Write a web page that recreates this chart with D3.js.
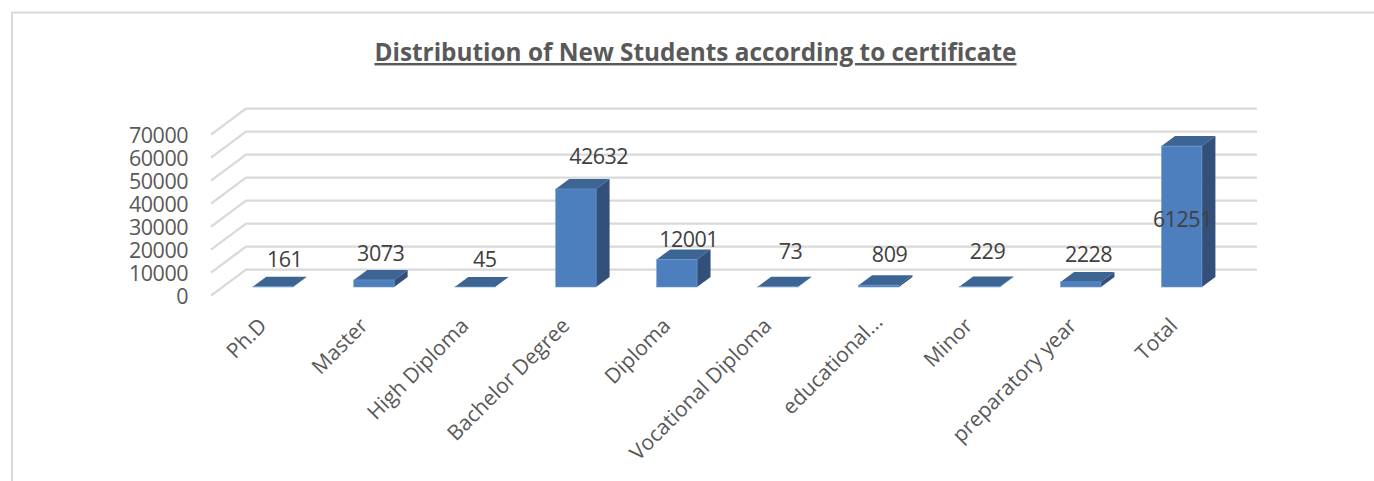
<!DOCTYPE html>
<html><head><meta charset="utf-8">
<script src="https://cdn.jsdelivr.net/npm/d3@7"></script>
<style>html,body{margin:0;padding:0;background:#fff;overflow:hidden}svg{display:block}text{font-family:"Open Sans",sans-serif}</style>
</head><body><svg id="c" width="1374" height="481"></svg>
<script>
const titleText = "Distribution of New Students according to certificate";
const categories = ["Ph.D","Master","High Diploma","Bachelor Degree","Diploma","Vocational Diploma","educational...","Minor","preparatory year","Total"];
const values = [161,3073,45,42632,12001,73,809,229,2228,61251];
const yTicks = [0,10000,20000,30000,40000,50000,60000,70000];
// hand-placed data label nudges, [dx, dy] from the top of each bar
const labelNudge = [[-3,-10],[-8,-9],[-5,-10],[8,-15],[-3,-2],[-2,-18],[-4,-13],[-7,-17],[-7,-10],[-14,91]];
// hand-placed category label nudges, [dx, dy]
const catNudge = [[0,0],[0,0],[0,0],[0,0],[0,0],[0,0],[10,-4],[-1,0],[2,0],[2,0]];

const svg = d3.select("#c");
const wallDx = 35, wallDy = -26, barDx = 13.5, barDy = -10;
const y = d3.scaleLinear().domain([0,70000]).range([295.6,134.6]);
const yBar = d3.scaleLinear().domain([0,70000]).range([287,126]);
const x = d3.scaleBand().domain(categories).range([222.5,1232.2]).paddingInner(0.6).paddingOuter(0.3);

// frame
svg.append("path").attr("d","M12,481V12.5H1374").attr("fill","none").attr("stroke","#d9d9d9").attr("stroke-width",2);

// title
svg.append("text").attr("x",695.5).attr("y",61).attr("text-anchor","middle")
  .attr("font-size",24.35).attr("font-weight",700).attr("fill","#595959")
  .attr("text-decoration","underline").text(titleText);

// gridlines (floor/wall)
const grid = svg.append("g").attr("fill","none").attr("stroke","#d9d9d9").attr("stroke-width",2.4);
grid.selectAll("path").data(yTicks).join("path")
  .attr("d",d=>`M${211},${y(d)}L${211+wallDx},${y(d)+wallDy}L1257,${y(d)+wallDy}`);

// y axis
const axis = svg.append("g").attr("transform","translate(195,1.2)")
  .call(d3.axisLeft(y).tickValues(yTicks).tickFormat(d3.format("d")).tickSize(0).tickPadding(7));
axis.select(".domain").remove();
axis.selectAll("text").attr("font-size",21.5).attr("letter-spacing",-0.5).attr("fill","#595959").style("font-family",'"Open Sans",sans-serif');

// bars
const bars = svg.append("g").selectAll("g").data(categories).join("g");
const bw = x.bandwidth();
bars.append("path").attr("fill","#3d6594").attr("d",(c,i)=>{
  const l=x(c), t=yBar(values[i]);
  return `M${l},${t}L${l+barDx},${t+barDy}H${l+bw+barDx}L${l+bw},${t}Z`;
});
bars.append("path").attr("fill","#325079").attr("d",(c,i)=>{
  const l=x(c)+bw, t=yBar(values[i]), b=yBar(0);
  return `M${l},${t}L${l+barDx},${t+barDy}V${b+barDy}L${l},${b}Z`;
});
bars.append("rect").attr("fill","#4d7ebd").attr("stroke","#6f9bd1").attr("stroke-width",0.6)
  .attr("x",c=>x(c)).attr("width",bw)
  .attr("y",(c,i)=>yBar(values[i])).attr("height",(c,i)=>yBar(0)-yBar(values[i]));

// data labels
svg.append("g").selectAll("text").data(categories).join("text")
  .attr("text-anchor","middle").attr("font-size",21.5).attr("letter-spacing",-0.5).attr("fill","#404040")
  .attr("x",(c,i)=>x(c)+bw/2+barDx/2+labelNudge[i][0]+8)
  .attr("y",(c,i)=>yBar(values[i])+barDy+labelNudge[i][1])
  .text((c,i)=>values[i]);

// category labels
svg.append("g").selectAll("text").data(categories).join("text")
  .attr("text-anchor","end").attr("font-size",21).attr("fill","#595959")
  .attr("transform",(c,i)=>`translate(${x(c)+bw/2-5+catNudge[i][0]},${327+catNudge[i][1]}) rotate(-45)`)
  .text(c=>c);
</script></body></html>
